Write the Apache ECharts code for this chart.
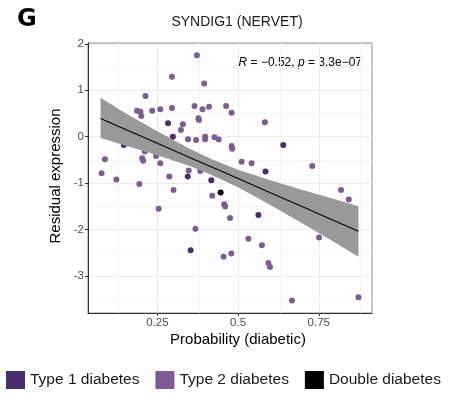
<!DOCTYPE html>
<html>
<head>
<meta charset="utf-8">
<script src="https://cdn.jsdelivr.net/npm/echarts@6/dist/echarts.min.js"></script>
<style>
  html, body { margin: 0; padding: 0; background: #fff; }
  #chart { width: 467px; height: 394px; }
</style>
</head>
<body>
<div id="chart"></div>
<script>
// points: [probability, residual]
var type1 = [
    [0.283, 0.29], [0.298, 0.0], [0.146, -0.18], [0.344, -0.86], [0.417, -0.94],
    [0.585, -0.75], [0.563, -1.685], [0.353, -2.45], [0.64, -0.18]
];
var type2 = [
    [0.3725, 1.757], [0.295, 1.29], [0.395, 1.148], [0.213, 0.875], [0.187, 0.56],
    [0.1975, 0.54], [0.20, 0.445], [0.234, 0.56], [0.259, 0.59], [0.295, 0.617],
    [0.365, 0.66], [0.39, 0.59], [0.41, 0.645], [0.463, 0.66], [0.48, 0.516],
    [0.377, 0.40], [0.379, 0.36], [0.329, 0.266], [0.323, 0.144], [0.583, 0.31],
    [0.345, -0.056], [0.370, -0.07], [0.398, 0.0], [0.398, -0.056], [0.427, -0.01],
    [0.440, -0.06], [0.48, -0.20], [0.482, -0.26], [0.211, -0.32], [0.0875, -0.486],
    [0.203, -0.465], [0.206, -0.516], [0.246, -0.415], [0.259, -0.57], [0.511, -0.54],
    [0.542, -0.57], [0.73, -0.63], [0.077, -0.79], [0.123, -0.92], [0.287, -0.86],
    [0.347, -0.73], [0.383, -0.74], [0.194, -1.02], [0.30, -1.146], [0.254, -1.555],
    [0.42, -1.275], [0.457, -1.455], [0.46, -1.505], [0.475, -1.75], [0.532, -2.2],
    [0.574, -2.34], [0.455, -2.59], [0.479, -2.52], [0.594, -2.72], [0.599, -2.81],
    [0.667, -3.53], [0.873, -3.46], [0.751, -2.17], [0.819, -1.146], [0.843, -1.355],
    [0.368, -1.985]
];
var doubleDiab = [[0.446, -1.20]];

// fitted line and confidence band
var fitX     = [0.074, 0.15, 0.25, 0.35, 0.42, 0.5, 0.6, 0.7, 0.8, 0.873];
var fitY     = [0.395, 0.163, -0.141, -0.446, -0.659, -0.903, -1.208, -1.512, -1.817, -2.04];
var fitLower = [-0.03, -0.19, -0.40, -0.63, -0.83, -1.09, -1.47, -1.87, -2.28, -2.59];
var fitUpper = [0.84, 0.51, 0.12, -0.26, -0.49, -0.71, -0.94, -1.15, -1.35, -1.50];

var xTicks = [0.25, 0.5, 0.75];
var yTicks = [-3, -2, -1, 0, 1, 2];
var xMinor = [0.125, 0.375, 0.625, 0.875];
var yMinor = [-3.5, -2.5, -1.5, -0.5, 0.5, 1.5];

var seriesNames = ['Type 1 diabetes', 'Type 2 diabetes', 'Double diabetes'];
var colors = ['#4b2c6d', '#7f5a94', '#000000'];

var font = 'Liberation Sans, Arial, sans-serif';

var minorLines = xMinor.map(function (v) { return { xAxis: v }; })
    .concat(yMinor.map(function (v) { return { yAxis: v }; }));

var chart = echarts.init(document.getElementById('chart'));

chart.setOption({
    animation: false,
    textStyle: { fontFamily: font },
    grid: {
        left: 88, right: 95, top: 43, bottom: 81,
        show: true, borderColor: '#8a8a8a', borderWidth: 1, backgroundColor: '#fff'
    },
    xAxis: {
        type: 'value', min: 0.035, max: 0.915,
        axisLine: { show: true, onZero: false, lineStyle: { color: '#333', width: 1 } },
        axisTick: { show: true, length: 3, customValues: xTicks, lineStyle: { color: '#333' } },
        axisLabel: { customValues: xTicks, color: '#4d4d4d', fontSize: 11.5, margin: 4,
            formatter: function (v) { return String(v); } },
        splitLine: { show: true, lineStyle: { color: '#ebebeb', width: 1 } }
    },
    yAxis: {
        type: 'value', min: -3.8, max: 2.02,
        axisLine: { show: true, onZero: false, lineStyle: { color: '#333', width: 1 } },
        axisTick: { show: true, length: 3, customValues: yTicks, lineStyle: { color: '#333' } },
        axisLabel: { customValues: yTicks, color: '#4d4d4d', fontSize: 11.5, margin: 4 },
        splitLine: { show: true, lineStyle: { color: '#ebebeb', width: 1 } }
    },
    legend: {
        data: seriesNames,
        left: 6, top: 371, padding: 0,
        icon: 'rect', itemWidth: 19, itemHeight: 18, itemGap: 16,
        textStyle: { fontSize: 15.5, color: '#1a1a1a', fontFamily: font }
    },
    graphic: [
        { type: 'text', left: 17, top: 8,
          style: { text: 'G', font: 'bold 24px DejaVu Sans, sans-serif', fill: '#000' } },
        { type: 'text', x: 237, y: 22,
          style: { text: 'SYNDIG1 (NERVET)', font: '14px ' + font, fill: '#1a1a1a',
                   align: 'center', verticalAlign: 'middle' } },
        { type: 'text', x: 238, y: 340,
          style: { text: 'Probability (diabetic)', font: '15px ' + font, fill: '#000',
                   align: 'center', verticalAlign: 'middle' } },
        { type: 'text', x: 56, y: 176, rotation: Math.PI / 2,
          style: { text: 'Residual expression', font: '15px ' + font, fill: '#000',
                   align: 'center', verticalAlign: 'middle' } },
        { type: 'text', x: 362, y: 63,
          style: {
              text: '{i|R} = \u22120.52, {i|p} = 3.3e\u221207',
              font: '12px ' + font, fill: '#000', align: 'right', verticalAlign: 'middle',
              rich: { i: { fontStyle: 'italic', fontSize: 12, fontFamily: font } }
          } }
    ],
    series: [
        {
            type: 'line', data: [], silent: true, z: 0,
            markLine: {
                silent: true, symbol: 'none', label: { show: false }, z: 0,
                lineStyle: { color: '#f4f4f4', width: 1, type: 'solid' },
                data: minorLines
            }
        },
        {
            name: seriesNames[0], type: 'scatter', data: type1, symbolSize: 6, z: 2,
            itemStyle: { color: colors[0], opacity: 1 }
        },
        {
            name: seriesNames[1], type: 'scatter', data: type2, symbolSize: 6, z: 2,
            itemStyle: { color: colors[1], opacity: 1 }
        },
        {
            name: seriesNames[2], type: 'scatter', data: doubleDiab, symbolSize: 6, z: 2,
            itemStyle: { color: colors[2], opacity: 1 }
        },
        {
            type: 'custom', silent: true, z: 3,
            data: fitX.map(function (x, i) { return [x, fitLower[i], fitUpper[i]]; }),
            renderItem: function (params, api) {
                if (params.dataIndex !== 0) return null;
                var upper = fitX.map(function (x, i) { return api.coord([x, fitUpper[i]]); });
                var lower = fitX.map(function (x, i) { return api.coord([x, fitLower[i]]); }).reverse();
                return {
                    type: 'polygon',
                    shape: { points: upper.concat(lower) },
                    style: { fill: '#999999' }
                };
            }
        },
        {
            type: 'line', silent: true, z: 4,
            data: fitX.map(function (x, i) { return [x, fitY[i]]; }),
            showSymbol: false, symbol: 'none',
            lineStyle: { color: '#000', width: 1.1 }
        }
    ]
});
</script>
</body>
</html>
